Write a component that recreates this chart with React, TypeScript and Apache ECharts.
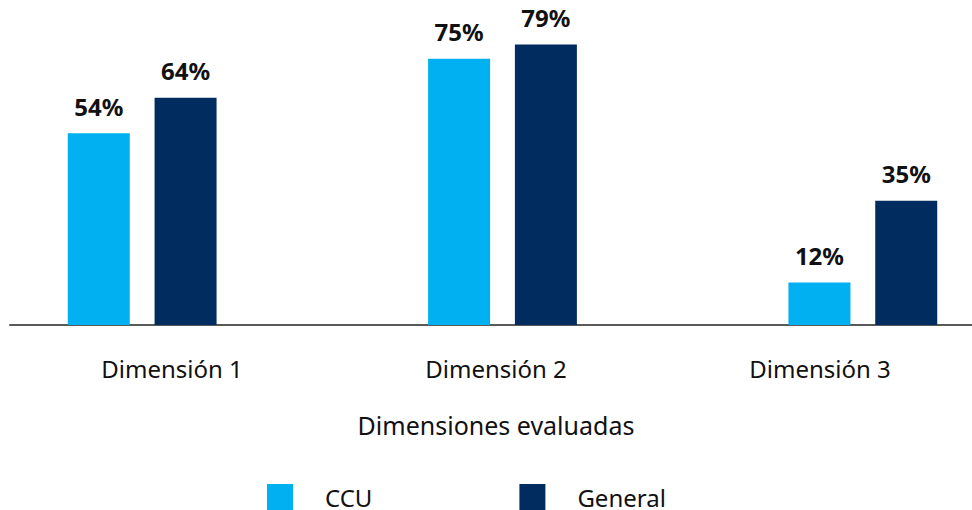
import React, { useEffect, useRef } from "react";
import * as echarts from "echarts";

const categories = ["Dimensión 1", "Dimensión 2", "Dimensión 3"];
const seriesNames = ["CCU", "General"];
const ccuValues = [54, 75, 12];
const generalValues = [64, 79, 35];
const axisName = "Dimensiones evaluadas";

const FONT = "'Noto Sans', 'Open Sans', sans-serif";

export default function App() {
  const ref = useRef<HTMLDivElement>(null);
  useEffect(() => {
    if (!ref.current) return;
    const chart = echarts.init(ref.current, undefined, { renderer: "svg" });
    const labelCfg = {
      show: true,
      position: "top",
      distance: 15,
      formatter: (p: any) => `${p.value}%`,
      fontFamily: FONT,
      fontSize: 24,
      fontWeight: "bold",
      color: "#111111",
    };
    chart.setOption({
      animation: false,
      backgroundColor: "#ffffff",
      grid: [
        { left: -38, width: 1081, top: 41, bottom: 185, outerBoundsMode: "none", containLabel: false },
        { left: 10, width: 972, top: 41, bottom: 185, outerBoundsMode: "none", containLabel: false },
      ],
      xAxis: [
        {
          type: "category",
          gridIndex: 0,
          data: categories,
          axisLine: { show: false },
          axisTick: { show: false },
          axisLabel: { show: false },
        },
        {
          type: "category",
          gridIndex: 1,
          data: categories,
          axisLine: { show: true, lineStyle: { color: "#595959", width: 2 } },
          axisTick: { show: false },
          axisLabel: {
            margin: 31,
            fontFamily: FONT,
            fontSize: 24,
            color: "#111111",
          },
          name: axisName,
          nameLocation: "middle",
          nameGap: 87,
          nameTextStyle: { fontFamily: FONT, fontSize: 25, color: "#111111" },
        },
      ],
      yAxis: [
        { type: "value", gridIndex: 0, min: 0, max: 80, show: false },
        { type: "value", gridIndex: 1, min: 0, max: 80, show: false },
      ],
      legend: {
        left: 267,
        top: 484,
        padding: 0,
        itemWidth: 26,
        itemHeight: 26,
        itemGap: 147,
        icon: "rect",
        data: seriesNames,
        textStyle: {
          fontFamily: FONT,
          fontSize: 24,
          color: "#111111",
          padding: [0, 0, 0, 27],
        },
      },
      series: [
        {
          name: seriesNames[0],
          type: "bar",
          xAxisIndex: 0,
          yAxisIndex: 0,
          data: ccuValues,
          barWidth: 62,
          barGap: "40%",
          itemStyle: { color: "#00B0F0" },
          label: labelCfg,
        },
        {
          name: seriesNames[1],
          type: "bar",
          xAxisIndex: 0,
          yAxisIndex: 0,
          data: generalValues,
          barWidth: 62,
          barGap: "40%",
          itemStyle: { color: "#002C5F" },
          label: labelCfg,
        },
      ],
    });
    return () => chart.dispose();
  }, []);
  return (
    <div
      ref={ref}
      style={{ position: "fixed", left: 0, top: 0, width: 972, height: 510 }}
    />
  );
}
